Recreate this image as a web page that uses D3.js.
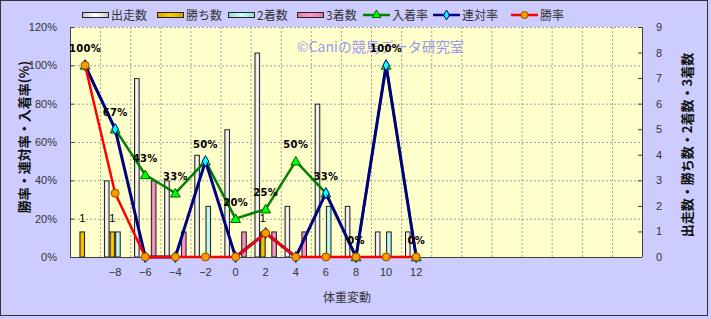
<!DOCTYPE html>
<html>
<head>
<meta charset="utf-8">
<script src="https://d3js.org/d3.v7.min.js"></script>
<style>
  body { margin: 0; background: #ccccff; }
  text { font-family: "Liberation Sans", "Noto Sans CJK JP", sans-serif; }
  .jp { font-family: "Noto Sans CJK JP", sans-serif; }
  .grid { stroke: #a0a0a0; stroke-width: 1; stroke-dasharray: 2,2; }
  .tick-label { font-size: 11px; fill: #333; }
  .pct { font-family: "DejaVu Sans", sans-serif; font-size: 10px; font-weight: bold; fill: #000; letter-spacing: 0.3px; }
</style>
</head>
<body>
<div id="chart"></div>
<script>
// 体重変動別の成績

// categories (体重変動)
const categories = [-10, -8, -6, -4, -2, 0, 2, 4, 6, 8, 10, 12, 14, 16, 18, 20, 22, 24, 26];
const tickLabels = ["", "−8", "−6", "−4", "−2", "0", "2", "4", "6", "8", "10", "12", "", "", "", "", "", "", ""];

// counts (right axis), for -10 .. 12
const starts  = [0, 3, 7, 3, 4, 5, 8, 2, 6, 2, 1, 1];
const wins    = [1, 1, 0, 0, 0, 0, 1, 0, 0, 0, 0, 0];
const seconds = [0, 1, 0, 0, 2, 0, 0, 0, 2, 0, 1, 0];
const thirds  = [0, 0, 3, 1, 0, 1, 1, 1, 0, 0, 0, 0];

// rates in % (left axis)
const placeRate   = [100, 66.7, 42.9, 33.3, 50, 20, 25, 50, 33.3, 0, 100, 0];
const rentaiRate  = [100, 66.7, 0, 0, 50, 0, 12.5, 0, 33.3, 0, 100, 0];
const winRate     = [100, 33.3, 0, 0, 0, 0, 12.5, 0, 0, 0, 0, 0];

const width = 711, height = 319;
const plot = { left: 70, right: 642, top: 27, bottom: 257 };

const svg = d3.select("#chart").append("svg")
  .attr("width", width)
  .attr("height", height);

// gradients for the bars
const defs = svg.append("defs");
function grad(id, c1, c2) {
  const g = defs.append("linearGradient").attr("id", id)
    .attr("x1", "0%").attr("x2", "100%").attr("y1", "0%").attr("y2", "0%");
  g.append("stop").attr("offset", "0%").attr("stop-color", c2);
  g.append("stop").attr("offset", "50%").attr("stop-color", c1);
  g.append("stop").attr("offset", "100%").attr("stop-color", c2);
}
grad("gStart", "#ffffff", "#c8c8c8");
grad("gWin", "#ffcc00", "#d9a000");
grad("gSecond", "#ccffff", "#99d6d6");
grad("gThird", "#ff99cc", "#d97aa8");

// background + frame
svg.append("rect").attr("x", 0.5).attr("y", 0.5).attr("width", 707).attr("height", 315)
  .attr("fill", "#ccccff").attr("stroke", "#333");

const x = d3.scaleBand().domain(categories).range([plot.left, plot.right]).padding(0);
const yL = d3.scaleLinear().domain([0, 120]).range([plot.bottom, plot.top]);
const yR = d3.scaleLinear().domain([0, 9]).range([plot.bottom, plot.top]);
const cx = d => x(d) + x.bandwidth() / 2;

// plot area
svg.append("rect")
  .attr("x", plot.left).attr("y", plot.top)
  .attr("width", plot.right - plot.left).attr("height", plot.bottom - plot.top)
  .attr("fill", "#ffffcc");

// grid
const grid = svg.append("g");
grid.selectAll("line.h").data(d3.range(20, 121, 20)).enter().append("line")
  .attr("class", "grid")
  .attr("x1", plot.left).attr("x2", plot.right)
  .attr("y1", d => yL(d) + 0.5).attr("y2", d => yL(d) + 0.5);
grid.selectAll("line.v").data(categories.slice(1)).enter().append("line")
  .attr("class", "grid")
  .attr("x1", d => x(d) + 0.5).attr("x2", d => x(d) + 0.5)
  .attr("y1", plot.top).attr("y2", plot.bottom);

// watermark
svg.append("text").attr("class", "jp")
  .attr("x", 297).attr("y", 52)
  .attr("font-size", 14).attr("fill", "#9999ee")
  .text("©Caniの競馬データ研究室");

// bars
const barSeries = [
  { name: "出走数", values: starts, fill: "url(#gStart)" },
  { name: "勝ち数", values: wins, fill: "url(#gWin)" },
  { name: "2着数", values: seconds, fill: "url(#gSecond)" },
  { name: "3着数", values: thirds, fill: "url(#gThird)" }
];
const groupW = x.bandwidth() * 0.745;
const x1 = d3.scaleBand().domain(d3.range(barSeries.length)).range([-groupW / 2, groupW / 2]);

barSeries.forEach((s, si) => {
  svg.append("g").selectAll("rect")
    .data(s.values.map((v, i) => ({ cat: categories[i], v })).filter(d => d.v > 0))
    .enter().append("rect")
    .attr("x", d => cx(d.cat) + x1(si) + 0.5)
    .attr("y", d => yR(d.v) + 0.5)
    .attr("width", x1.bandwidth() - 1)
    .attr("height", d => yR(0) - yR(d.v) - 0.5)
    .attr("fill", s.fill)
    .attr("stroke", "#222")
    .attr("stroke-width", 1);
});

// labels for 勝ち数
svg.append("g").selectAll("text")
  .data(wins.map((v, i) => ({ cat: categories[i], v })).filter(d => d.v > 0))
  .enter().append("text")
  .attr("x", d => cx(d.cat) + x1(1) + x1.bandwidth() / 2)
  .attr("y", d => yR(d.v) - 9)
  .attr("text-anchor", "middle")
  .attr("font-size", 11)
  .attr("fill", "#000")
  .text(d => d.v);

// axes
const axisColor = "#404040";
svg.append("line").attr("x1", plot.left + 0.5).attr("x2", plot.left + 0.5)
  .attr("y1", plot.top).attr("y2", plot.bottom).attr("stroke", axisColor);
svg.append("line").attr("x1", plot.right + 0.5).attr("x2", plot.right + 0.5)
  .attr("y1", plot.top).attr("y2", plot.bottom).attr("stroke", axisColor);
svg.append("line").attr("x1", plot.left).attr("x2", plot.right)
  .attr("y1", plot.bottom + 0.5).attr("y2", plot.bottom + 0.5).attr("stroke", axisColor);

const leftAxis = svg.append("g");
leftAxis.selectAll("line").data(d3.range(0, 121, 20)).enter().append("line")
  .attr("x1", plot.left).attr("x2", plot.left + 4)
  .attr("y1", d => yL(d) + 0.5).attr("y2", d => yL(d) + 0.5).attr("stroke", axisColor);
leftAxis.selectAll("text").data(d3.range(0, 121, 20)).enter().append("text")
  .attr("class", "tick-label")
  .attr("x", 57).attr("y", d => yL(d) + 4)
  .attr("text-anchor", "end")
  .text(d => d + "%");

const rightAxis = svg.append("g");
rightAxis.selectAll("line").data(d3.range(0, 10)).enter().append("line")
  .attr("x1", plot.right - 4).attr("x2", plot.right)
  .attr("y1", d => yR(d) + 0.5).attr("y2", d => yR(d) + 0.5).attr("stroke", axisColor);
rightAxis.selectAll("text").data(d3.range(0, 10)).enter().append("text")
  .attr("class", "tick-label")
  .attr("x", 656).attr("y", d => yR(d) + 4)
  .text(d => d);

svg.append("g").selectAll("text").data(categories).enter().append("text")
  .attr("class", "tick-label")
  .attr("x", d => cx(d)).attr("y", 276)
  .attr("text-anchor", "middle")
  .text((d, i) => tickLabels[i]);

// axis titles
svg.append("text").attr("class", "jp")
  .attr("transform", "translate(29,137) rotate(-90)")
  .attr("text-anchor", "middle").attr("font-size", 13).attr("font-weight", "bold")
  .attr("fill", "#111")
  .text("勝率・連対率・入着率(%)");
svg.append("text").attr("class", "jp")
  .attr("transform", "translate(692,145) rotate(-90)")
  .attr("text-anchor", "middle").attr("font-size", 13).attr("font-weight", "bold")
  .attr("fill", "#111")
  .text("出走数・勝ち数・2着数・3着数");
svg.append("text").attr("class", "jp")
  .attr("x", 347).attr("y", 302)
  .attr("text-anchor", "middle").attr("font-size", 12).attr("fill", "#333")
  .text("体重変動");

// lines
const lineSeries = [
  { name: "入着率", values: placeRate, stroke: "#008000", marker: "triangle", mfill: "#00ff00", mstroke: "#006000" },
  { name: "連対率", values: rentaiRate, stroke: "#000080", marker: "diamond", mfill: "#00ffff", mstroke: "#000080" },
  { name: "勝率", values: winRate, stroke: "#ff0000", marker: "circle", mfill: "#ff9900", mstroke: "#8a5000" }
];
const symbolType = { triangle: d3.symbolTriangle, diamond: d3.symbolDiamond, circle: d3.symbolCircle };
const symbolSize = { triangle: 42, diamond: 36, circle: 50 };

const line = d3.line().x(d => cx(d.cat)).y(d => yL(d.v));

lineSeries.forEach(s => {
  const pts = s.values.map((v, i) => ({ cat: categories[i], v }));
  const g = svg.append("g");
  g.append("path").datum(pts)
    .attr("d", line)
    .attr("fill", "none")
    .attr("stroke", s.stroke)
    .attr("stroke-width", s.marker === "diamond" ? 3 : 2.5)
    .attr("stroke-linejoin", "round");
  g.selectAll("path.m").data(pts).enter().append("path")
    .attr("transform", d => `translate(${cx(d.cat)},${yL(d.v) + (s.marker === "triangle" ? 1 : 0)})`)
    .attr("d", d3.symbol().type(symbolType[s.marker]).size(symbolSize[s.marker]))
    .attr("fill", s.mfill)
    .attr("stroke", s.mstroke)
    .attr("stroke-width", 1);
});

// 入着率 labels
svg.append("g").selectAll("text")
  .data(placeRate.map((v, i) => ({ cat: categories[i], v })))
  .enter().append("text")
  .attr("class", "pct")
  .attr("x", d => cx(d.cat))
  .attr("y", d => yL(d.v) - 13)
  .attr("text-anchor", "middle")
  .text(d => Math.round(d.v) + "%");

// legend
const legendItems = [
  { name: "出走数", type: "bar", fill: "url(#gStart)", x: 82 },
  { name: "勝ち数", type: "bar", fill: "url(#gWin)", x: 157 },
  { name: "2着数", type: "bar", fill: "url(#gSecond)", x: 228 },
  { name: "3着数", type: "bar", fill: "url(#gThird)", x: 297 },
  { name: "入着率", type: "line", s: lineSeries[0], x: 363 },
  { name: "連対率", type: "line", s: lineSeries[1], x: 433 },
  { name: "勝率", type: "line", s: lineSeries[2], x: 511 }
];
const legend = svg.append("g");
legendItems.forEach(it => {
  const g = legend.append("g").attr("transform", `translate(${it.x},15)`);
  if (it.type === "bar") {
    g.append("rect").attr("x", 0.5).attr("y", -2.5).attr("width", 26).attr("height", 5)
      .attr("fill", it.fill).attr("stroke", "#222");
  } else {
    g.append("line").attr("x1", 0).attr("x2", 27).attr("y1", 0).attr("y2", 0)
      .attr("stroke", it.s.stroke).attr("stroke-width", 2.5);
    g.append("path").attr("transform", "translate(13.5,0)")
      .attr("d", d3.symbol().type(symbolType[it.s.marker]).size(symbolSize[it.s.marker] * 0.8))
      .attr("fill", it.s.mfill).attr("stroke", it.s.mstroke);
  }
  g.append("text").attr("class", "jp")
    .attr("x", 29).attr("y", 4.5)
    .attr("font-size", 12).attr("fill", "#333")
    .text(it.name);
});
</script>
</body>
</html>
